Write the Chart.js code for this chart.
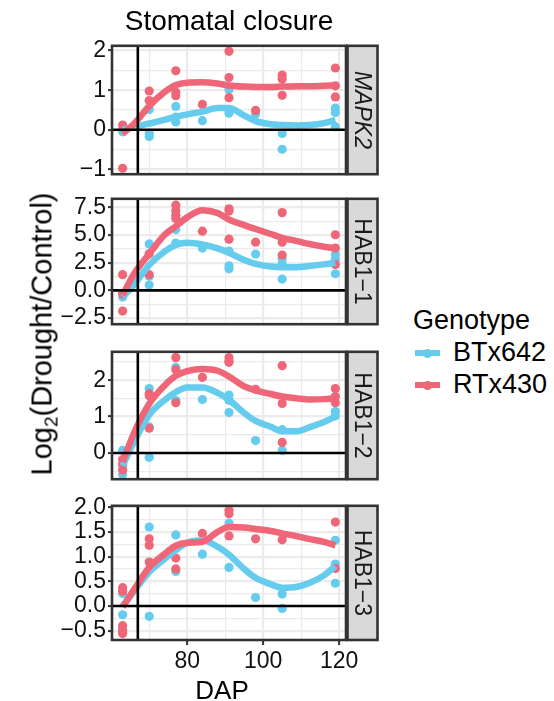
<!DOCTYPE html>
<html>
<head>
<meta charset="utf-8">
<script src="https://cdn.jsdelivr.net/npm/chart.js@4.4.1/dist/chart.umd.min.js"></script>
<style>
html,body{margin:0;padding:0;background:#fff;}
#wrap{position:relative;width:554px;height:701px;overflow:hidden;font-family:'Liberation Sans',Arial,Helvetica,sans-serif;color:#000;}
#wrap canvas{position:absolute;left:0;}
.txt{position:absolute;white-space:nowrap;}
</style>
</head>
<body>
<div id="wrap"></div>
<script>
// ---------------- DATA ----------------
const genotypes = ['BTx642', 'RTx430'];
const days = [63, 70, 77, 84, 91, 98, 105, 119];
const stripLabels = ['MAPK2', 'HAB1\u22121', 'HAB1\u22122', 'HAB1\u22123'];
const title = 'Stomatal closure';
const xTitle = 'DAP';

// replicate values at each day (one inner list per day)
const mapk2_BTx642 = [[-0.05, 0.02], [0.51, -0.09, -0.17], [0.59, 0.32, 0.2], [0.23], [1.02, 0.5, 0.42], [0.4], [-0.09, -0.49], [0.55, 0.44, 0.08]];
const mapk2_RTx430 = [[0.12, -0.97], [0.98, 0.74], [1.49, 0.95, 0.86], [0.64], [1.98, 1.32, 0.81], [0.49], [1.38, 1.28, 0.87], [1.56, 1.11, 0.83]];
const hab11_BTx642 = [[-0.59, -0.3], [4.2, 1.28, 0.48], [5.5, 4.28], [3.82], [3.56, 2.22, 1.95], [3.29], [2.89, 2.4, 1.02], [3.29, 2.83, 1.5]];
const hab11_RTx430 = [[1.42, -0.32, -1.87], [3.3, 1.42], [7.7, 7.2, 6.8, 6.5], [5.35], [7.38, 7.17, 4.63], [4.36], [7.03, 4.36, 3.2], [5.03, 3.82, 2.35]];
const hab12_BTx642 = [[0.07, -0.35, -0.59], [1.77, 0.72, -0.12], [2.35, 1.44], [1.47], [1.59, 1.45, 1.11], [0.34], [0.64, 0.07], [1.14, 1.02]];
const hab12_RTx430 = [[-0.18, -0.47, -0.3], [1.63, 1.57, 0.68], [2.62, 2.29, 1.38], [2.08], [2.62, 2.53, 2.49], [1.75], [2.4, 1.36, 0.29], [1.77, 1.55, 1.38]];
const hab13_BTx642 = [[0.25, -0.18, -0.47], [1.6, -0.21], [1.44, 0.7], [1.05], [1.68, 0.78], [0.17], [0.24, -0.05], [1.33, 0.85, 0.46]];
const hab13_RTx430 = [[0.37, 0.3, -0.4, -0.5, -0.56], [1.36, 1.23, 0.89], [0.97, 0.75], [1.47], [1.94, 1.87, 1.42], [1.36], [1.34], [1.7, 0.76]];

// smoothed (loess) curves
const smoothDays = [63, 66, 70, 74, 77, 80, 84, 88, 91, 95, 98, 102, 105, 109, 112, 116, 119];
const mapk2_BTx642_fit = [0.0, 0.07, 0.16, 0.25, 0.33, 0.39, 0.46, 0.55, 0.55, 0.36, 0.22, 0.14, 0.12, 0.11, 0.12, 0.17, 0.25];
const mapk2_RTx430_fit = [-0.1, 0.15, 0.6, 0.95, 1.13, 1.19, 1.2, 1.17, 1.12, 1.09, 1.08, 1.08, 1.09, 1.1, 1.1, 1.11, 1.12];
const hab11_BTx642_fit = [-0.6, 0.5, 2.3, 3.5, 4.1, 4.3, 4.15, 3.8, 3.4, 2.75, 2.4, 2.15, 2.08, 2.1, 2.2, 2.35, 2.5];
const hab11_RTx430_fit = [-0.45, 1.5, 3.3, 5.0, 5.8, 6.6, 7.25, 7.0, 6.4, 5.9, 5.55, 5.1, 4.75, 4.45, 4.2, 3.95, 3.8];
const hab12_BTx642_fit = [-0.35, 0.3, 1.05, 1.45, 1.67, 1.8, 1.8, 1.65, 1.46, 1.1, 0.88, 0.72, 0.6, 0.6, 0.7, 0.85, 1.0];
const hab12_RTx430_fit = [-0.25, 0.55, 1.35, 1.85, 2.12, 2.25, 2.31, 2.26, 2.1, 1.83, 1.72, 1.62, 1.55, 1.5, 1.47, 1.48, 1.51];
const hab13_BTx642_fit = [0.0, 0.3, 0.69, 0.95, 1.13, 1.28, 1.33, 1.2, 1.04, 0.75, 0.57, 0.44, 0.37, 0.39, 0.46, 0.62, 0.81];
const hab13_RTx430_fit = [-0.02, 0.33, 0.78, 1.05, 1.22, 1.28, 1.3, 1.5, 1.6, 1.59, 1.56, 1.52, 1.47, 1.41, 1.36, 1.3, 1.23];

// axes
const xRange = [60.2, 121.8];
const xMajorTicks = [80, 100, 120];
const xMinorTicks = [70, 90, 110];
const xTickLabels = ['80', '100', '120'];
const refDay = 67;      // vertical reference line
const refValue = 0;     // horizontal reference line

const mapk2_yRange = [-1.12, 2.12];
const mapk2_yMajor = [-1, 0, 1, 2];
const mapk2_yMinor = [-0.5, 0.5, 1.5];
const mapk2_yLabels = ['\u22121', '0', '1', '2'];

const hab11_yRange = [-3.06, 8.28];
const hab11_yMajor = [-2.5, 0, 2.5, 5, 7.5];
const hab11_yMinor = [-1.25, 1.25, 3.75, 6.25];
const hab11_yLabels = ['\u22122.5', '0.0', '2.5', '5.0', '7.5'];

const hab12_yRange = [-0.72, 2.78];
const hab12_yMajor = [0, 1, 2];
const hab12_yMinor = [-0.5, 0.5, 1.5, 2.5];
const hab12_yLabels = ['0', '1', '2'];

const hab13_yRange = [-0.69, 2.03];
const hab13_yMajor = [-0.5, 0, 0.5, 1, 1.5, 2];
const hab13_yMinor = [-0.25, 0.25, 0.75, 1.25, 1.75];
const hab13_yLabels = ['\u22120.5', '0.0', '0.5', '1.0', '1.5', '2.0'];

// ---------------- STYLE / LAYOUT ----------------
const FONT = "'Liberation Sans', Arial, Helvetica, sans-serif";
const COLORS = ['#66CCEE', '#EE6677'];
const CANVAS_W = 400, PLOT_LEFT = 112, PLOT_RIGHT = 346, STRIP_W = 30;
const TICK_SIZE = 23;
const panels = [
  { top: 38,  bottom: 182, range: mapk2_yRange, major: mapk2_yMajor, minor: mapk2_yMinor, labels: mapk2_yLabels,
    pts: [mapk2_BTx642, mapk2_RTx430], fit: [mapk2_BTx642_fit, mapk2_RTx430_fit], strip: stripLabels[0], italic: true },
  { top: 191, bottom: 332, range: hab11_yRange, major: hab11_yMajor, minor: hab11_yMinor, labels: hab11_yLabels,
    pts: [hab11_BTx642, hab11_RTx430], fit: [hab11_BTx642_fit, hab11_RTx430_fit], strip: stripLabels[1], italic: false },
  { top: 344, bottom: 487, range: hab12_yRange, major: hab12_yMajor, minor: hab12_yMinor, labels: hab12_yLabels,
    pts: [hab12_BTx642, hab12_RTx430], fit: [hab12_BTx642_fit, hab12_RTx430_fit], strip: stripLabels[2], italic: false },
  { top: 498, bottom: 640, range: hab13_yRange, major: hab13_yMajor, minor: hab13_yMinor, labels: hab13_yLabels,
    pts: [hab13_BTx642, hab13_RTx430], fit: [hab13_BTx642_fit, hab13_RTx430_fit], strip: stripLabels[3], italic: false, showX: true }
];

const wrap = document.getElementById('wrap');

function toPoints(reps) {
  const out = [];
  days.forEach((d, i) => reps[i].forEach(v => out.push({ x: d, y: v })));
  return out;
}
function toCurve(fit) {
  return smoothDays.map((d, i) => ({ x: d, y: fit[i] }));
}

const decor = {
  id: 'decor',
  afterDatasetsDraw(chart, args, opts) {
    const { ctx, chartArea: a, scales } = chart;
    ctx.save();
    ctx.beginPath();
    ctx.rect(a.left, a.top, a.right - a.left, a.bottom - a.top);
    ctx.clip();
    ctx.strokeStyle = '#000';
    ctx.lineWidth = 2.6;
    const y0 = scales.y.getPixelForValue(refValue);
    ctx.beginPath(); ctx.moveTo(a.left, y0); ctx.lineTo(a.right, y0); ctx.stroke();
    const x0 = scales.x.getPixelForValue(refDay);
    ctx.beginPath(); ctx.moveTo(x0, a.top); ctx.lineTo(x0, a.bottom); ctx.stroke();
    ctx.restore();
  },
  afterDraw(chart, args, opts) {
    const { ctx, chartArea: a } = chart;
    ctx.save();
    ctx.strokeStyle = '#333333';
    ctx.lineWidth = 2.6;
    ctx.strokeRect(a.left, a.top, a.right - a.left, a.bottom - a.top);
    // strip
    const sx = a.right + 1.5, sw = STRIP_W;
    ctx.fillStyle = '#D9D9D9';
    ctx.fillRect(sx, a.top, sw, a.bottom - a.top);
    ctx.strokeRect(sx, a.top, sw, a.bottom - a.top);
    ctx.translate(sx + sw / 2, (a.top + a.bottom) / 2);
    ctx.rotate(Math.PI / 2);
    ctx.fillStyle = '#1A1A1A';
    ctx.font = (opts.italic ? 'italic ' : '') + '23px ' + FONT;
    ctx.textAlign = 'center';
    ctx.textBaseline = 'middle';
    ctx.fillText(opts.strip, 0, 1);
    ctx.restore();
  }
};

panels.forEach(p => {
  const padTop = 8;
  const axisH = p.showX ? 60 : 0;
  const padBottom = p.showX ? 0 : 8;
  const H = padTop + (p.bottom - p.top) + axisH + padBottom;
  const canvas = document.createElement('canvas');
  canvas.width = CANVAS_W; canvas.height = H;
  canvas.style.width = CANVAS_W + 'px'; canvas.style.height = H + 'px';
  canvas.style.top = (p.top - padTop) + 'px';
  wrap.appendChild(canvas);

  const yMajorSet = new Set(p.major);
  const xMajorSet = new Set(xMajorTicks);
  const yAll = p.major.concat(p.minor).sort((a, b) => a - b);
  const xAll = xMajorTicks.concat(xMinorTicks).sort((a, b) => a - b);

  const datasets = [
    { label: genotypes[1] + ' fit', data: toCurve(p.fit[1]), showLine: true, borderColor: COLORS[1], borderWidth: 6.5,
      pointRadius: 0, cubicInterpolationMode: 'monotone', order: 0 },
    { label: genotypes[0] + ' fit', data: toCurve(p.fit[0]), showLine: true, borderColor: COLORS[0], borderWidth: 6.5,
      pointRadius: 0, cubicInterpolationMode: 'monotone', order: 1 },
    { label: genotypes[1], data: toPoints(p.pts[1]), backgroundColor: COLORS[1], borderWidth: 0, pointRadius: 4.6, order: 2 },
    { label: genotypes[0], data: toPoints(p.pts[0]), backgroundColor: COLORS[0], borderWidth: 0, pointRadius: 4.6, order: 3 }
  ];

  new Chart(canvas, {
    type: 'scatter',
    data: { datasets },
    options: {
      responsive: false,
      devicePixelRatio: 1,
      animation: false,
      events: [],
      layout: { padding: { left: 0, right: CANVAS_W - PLOT_RIGHT, top: padTop, bottom: padBottom } },
      plugins: { legend: { display: false }, tooltip: { enabled: false }, decor: { strip: p.strip, italic: p.italic } },
      scales: {
        x: {
          type: 'linear', min: xRange[0], max: xRange[1],
          afterBuildTicks: s => { s.ticks = xAll.map(v => ({ value: v })); },
          afterFit: s => { s.height = axisH; },
          border: { display: false },
          grid: {
            color: '#EBEBEB',
            lineWidth: c => (c.tick && xMajorSet.has(c.tick.value)) ? 2.2 : 1.2,
            drawTicks: !!p.showX,
            tickLength: 5,
            tickWidth: 2,
            tickColor: c => (c.tick && xMajorSet.has(c.tick.value)) ? '#333333' : 'rgba(0,0,0,0)'
          },
          ticks: {
            display: !!p.showX, autoSkip: false, maxRotation: 0, padding: 3,
            color: '#111', font: { family: FONT, size: TICK_SIZE },
            callback: v => { const i = xMajorTicks.indexOf(v); return i >= 0 ? xTickLabels[i] : ''; }
          }
        },
        y: {
          type: 'linear', min: p.range[0], max: p.range[1],
          afterBuildTicks: s => { s.ticks = yAll.map(v => ({ value: v })); },
          afterFit: s => { s.width = PLOT_LEFT; },
          border: { display: false },
          grid: {
            color: '#EBEBEB',
            lineWidth: c => (c.tick && yMajorSet.has(c.tick.value)) ? 2.2 : 1.2,
            drawTicks: true,
            tickLength: 4,
            tickWidth: 2,
            tickColor: c => (c.tick && yMajorSet.has(c.tick.value)) ? '#333333' : 'rgba(0,0,0,0)'
          },
          ticks: {
            autoSkip: false, padding: 2,
            color: '#111', font: { family: FONT, size: TICK_SIZE },
            callback: v => { const i = p.major.indexOf(v); return i >= 0 ? p.labels[i] : ''; }
          }
        }
      }
    },
    plugins: [decor]
  });
});

// ---------------- TEXT OVERLAYS ----------------
function addText(html, css) {
  const d = document.createElement('div');
  d.className = 'txt';
  d.innerHTML = html;
  Object.assign(d.style, css);
  wrap.appendChild(d);
  return d;
}
addText(title, { left: '0px', width: '458px', textAlign: 'center', top: '6.8px', fontSize: '28px', lineHeight: '28px' });
addText(xTitle, { left: '172px', width: '100px', textAlign: 'center', top: '677px', fontSize: '26px', lineHeight: '26px' });
addText('Log<sub style="font-size:19px;vertical-align:-6px;line-height:0">2</sub>(Drought/Control)',
  { left: '42px', top: '334px', fontSize: '29px', lineHeight: '29px', transform: 'translate(-50%,-50%) rotate(-90deg)' });

// legend
addText('Genotype', { left: '413px', top: '306.6px', fontSize: '27px', lineHeight: '27px' });
const legendY = [353, 385];
genotypes.forEach((g, i) => {
  const line = document.createElement('div');
  Object.assign(line.style, { position: 'absolute', left: '415px', top: (legendY[i] - 3) + 'px', width: '25px', height: '6px', background: COLORS[i] });
  wrap.appendChild(line);
  const dot = document.createElement('div');
  Object.assign(dot.style, { position: 'absolute', left: '423px', top: (legendY[i] - 4.5) + 'px', width: '9px', height: '9px', borderRadius: '50%', background: COLORS[i] });
  wrap.appendChild(dot);
  addText(g, { left: '453px', top: (legendY[i] + 9 - 22.9) + 'px', fontSize: '27px', lineHeight: '27px' });
});
</script>
</body>
</html>
